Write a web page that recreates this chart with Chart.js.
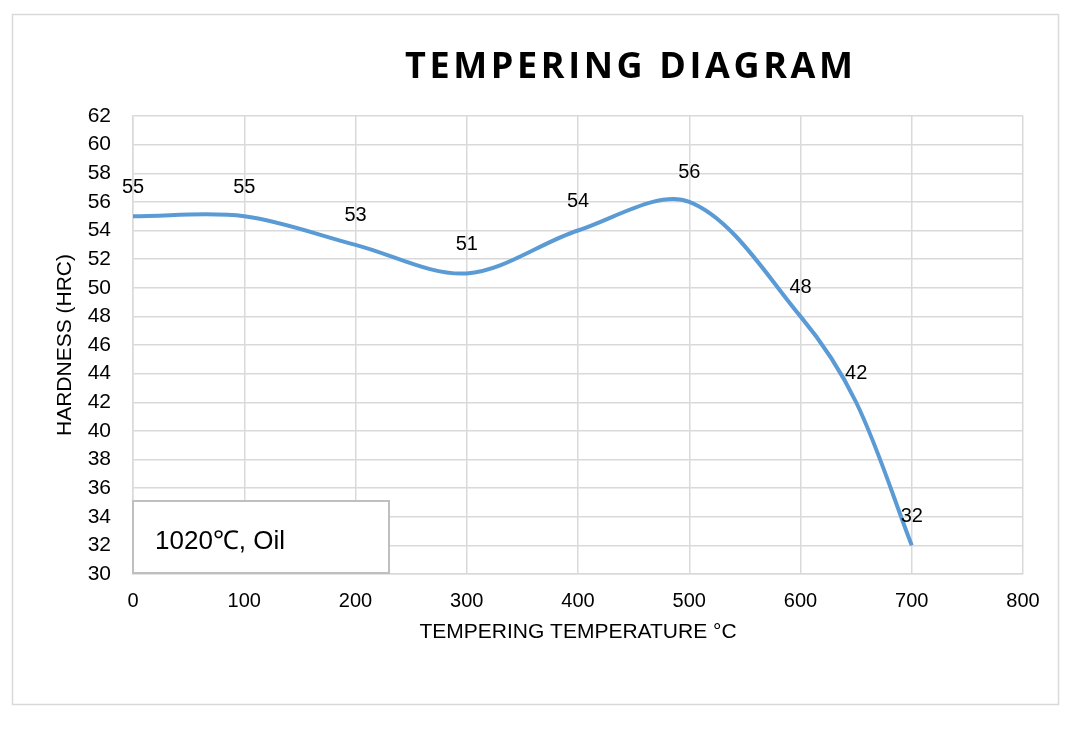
<!DOCTYPE html>
<html lang="en">
<head>
    <meta charset="UTF-8">
    <title>Tempering Diagram</title>
    <script src="https://cdn.jsdelivr.net/npm/chart.js"></script>
    <style>
        html, body { margin: 0; padding: 0; background: #fff; }
        #wrap { width: 1078px; height: 730px; }
    </style>
</head>
<body>
    <div id="wrap"><canvas id="graph"></canvas></div>

    <script>
        // Chart data
        const temperatures = [0, 100, 200, 300, 400, 500, 600, 650, 700];
        const hardness = [55, 55, 53, 51, 54, 56, 48, 42, 32];
        const chartTitle = "TEMPERING DIAGRAM";
        const noteText = "1020\u2103, Oil";

        const gridColor = "#d9d9d9";
        const textFont = "'Liberation Sans', Arial, sans-serif";

        // White page, outer frame
        const framePlugin = {
            id: "frame",
            beforeDraw(chart) {
                const ctx = chart.ctx;
                ctx.save();
                ctx.fillStyle = "#fff";
                ctx.fillRect(0, 0, chart.width, chart.height);
                ctx.strokeStyle = gridColor;
                ctx.lineWidth = 1.5;
                ctx.strokeRect(12.5, 14.5, 1046, 690);
                ctx.restore();
            }
        };

        // Spaced bold title
        const titlePlugin = {
            id: "spacedTitle",
            afterDraw(chart) {
                const ctx = chart.ctx;
                ctx.save();
                ctx.font = "bold 36px 'Open Sans', sans-serif";
                ctx.letterSpacing = "0px";
                const w0 = ctx.measureText(chartTitle).width;
                const target = 448;
                const ls = (target - w0) / (chartTitle.length - 1);
                ctx.letterSpacing = ls + "px";
                ctx.fillStyle = "#000";
                ctx.textAlign = "left";
                ctx.textBaseline = "alphabetic";
                ctx.fillText(chartTitle, 405, 78);
                ctx.restore();
            }
        };

        // Value labels above each point
        const labelPlugin = {
            id: "valueLabels",
            afterDatasetsDraw(chart) {
                const ctx = chart.ctx;
                const meta = chart.getDatasetMeta(0);
                ctx.save();
                ctx.font = "20px " + textFont;
                ctx.fillStyle = "#000";
                ctx.textAlign = "center";
                ctx.textBaseline = "middle";
                meta.data.forEach((pt, i) => {
                    ctx.fillText(String(hardness[i]), pt.x, pt.y - 29);
                });
                ctx.restore();
            }
        };

        // Text box in the lower left corner of the plot
        const notePlugin = {
            id: "noteBox",
            afterDraw(chart) {
                const ctx = chart.ctx;
                const a = chart.chartArea;
                const x = a.left, y = a.bottom - 73, w = 256, h = 72;
                ctx.save();
                ctx.fillStyle = "#fff";
                ctx.fillRect(x, y, w, h);
                ctx.strokeStyle = "#bfbfbf";
                ctx.lineWidth = 2;
                ctx.strokeRect(x, y, w, h);
                ctx.font = "26px " + textFont;
                ctx.fillStyle = "#000";
                ctx.textBaseline = "alphabetic";
                ctx.fillText(noteText, x + 22, y + 48);
                ctx.restore();
            }
        };

        const ctx = document.getElementById("graph").getContext("2d");
        new Chart(ctx, {
            type: "line",
            data: {
                datasets: [{
                    label: "Hardness",
                    data: temperatures.map((t, i) => ({ x: t, y: hardness[i] })),
                    borderColor: "#5b9bd5",
                    borderWidth: 4,
                    pointRadius: 0,
                    tension: 0.33,
                    fill: false
                }]
            },
            options: {
                responsive: true,
                maintainAspectRatio: false,
                animation: false,
                layout: {
                    padding: { left: 53, right: 55, top: 116, bottom: 85 }
                },
                plugins: {
                    legend: { display: false },
                    tooltip: { enabled: false }
                },
                scales: {
                    x: {
                        type: "linear",
                        min: 0,
                        max: 800,
                        ticks: {
                            stepSize: 100,
                            padding: 15,
                            color: "#000",
                            font: { family: textFont, size: 20 }
                        },
                        grid: { color: gridColor, lineWidth: 1.5, drawTicks: false },
                        border: { color: gridColor, width: 1.5 },
                        title: {
                            display: true,
                            text: "TEMPERING TEMPERATURE \u00b0C",
                            color: "#000",
                            padding: 0,
                            font: { family: textFont, size: 21 }
                        },
                        afterFit(scale) { scale.height = 71; }
                    },
                    y: {
                        min: 30,
                        max: 62,
                        ticks: {
                            stepSize: 2,
                            padding: 22,
                            color: "#000",
                            font: { family: textFont, size: 21 }
                        },
                        grid: { color: gridColor, lineWidth: 1.5, drawTicks: false },
                        border: { color: gridColor, width: 1.5 },
                        title: {
                            display: true,
                            text: "HARDNESS (HRC)",
                            color: "#000",
                            padding: 0,
                            font: { family: textFont, size: 21 }
                        },
                        afterFit(scale) { scale.width = 80; }
                    }
                }
            },
            plugins: [framePlugin, titlePlugin, labelPlugin, notePlugin]
        });
    </script>
</body>
</html>
